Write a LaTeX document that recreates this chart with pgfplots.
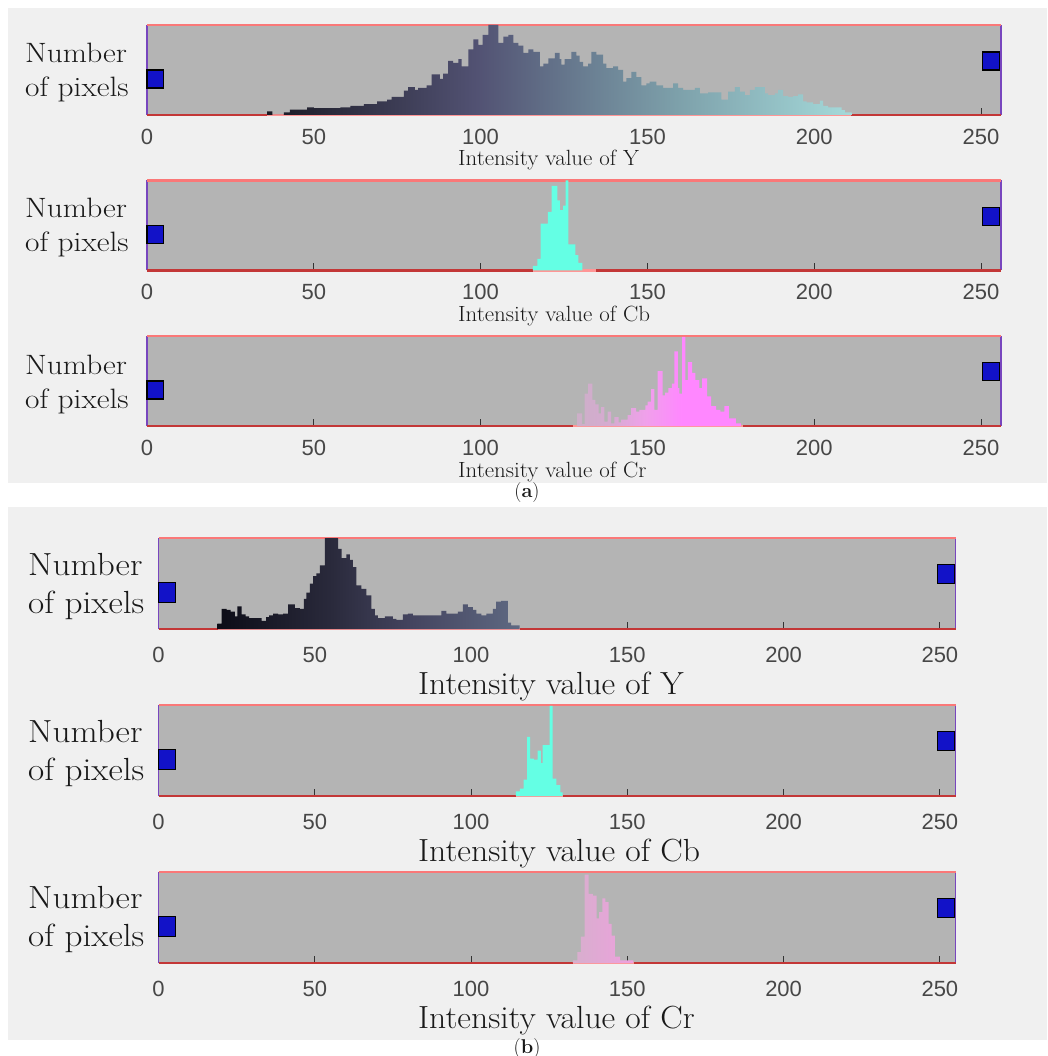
\documentclass[border=0pt]{standalone}
\usepackage{fontspec}
\usepackage{graphicx}
\usepackage{pgfplots}
\pgfplotsset{compat=1.18}
\newfontfamily\ticksf{Liberation Sans}

\definecolor{panelbg}{RGB}{240,240,240}
\definecolor{histbg}{RGB}{180,180,180}
\definecolor{frametop}{RGB}{250,120,120}
\definecolor{framebot}{RGB}{195,55,55}
\definecolor{frameside}{RGB}{120,70,190}
\definecolor{pinkseg}{RGB}{255,150,150}
\definecolor{sqblue}{RGB}{18,18,200}
\definecolor{cbcol}{RGB}{100,255,228}
\definecolor{labcol}{RGB}{25,25,25}
\definecolor{ya1}{RGB}{25,25,35}
\definecolor{ya2}{RGB}{82,82,115}
\definecolor{ya3}{RGB}{105,125,145}
\definecolor{ya4}{RGB}{125,160,170}
\definecolor{ya5}{RGB}{165,218,218}
\definecolor{cra1}{RGB}{205,175,200}
\definecolor{cra2}{RGB}{215,170,210}
\definecolor{cra3}{RGB}{240,160,235}
\definecolor{cra4}{RGB}{255,135,255}
\definecolor{yb1}{RGB}{12,12,22}
\definecolor{yb2}{RGB}{42,42,60}
\definecolor{yb3}{RGB}{68,68,95}
\definecolor{yb4}{RGB}{95,105,130}
\definecolor{crb1}{RGB}{215,175,205}
\definecolor{crb2}{RGB}{238,160,222}

\pgfdeclarehorizontalshading{shYa}{100bp}{color(0bp)=(ya1); color(25bp)=(ya1); color(43bp)=(ya2); color(52bp)=(ya3); color(60bp)=(ya4); color(75bp)=(ya5); color(100bp)=(ya5)}
\pgfdeclarehorizontalshading{shCra}{100bp}{color(0bp)=(cra1); color(25bp)=(cra1); color(36bp)=(cra2); color(46bp)=(cra3); color(57bp)=(cra4); color(75bp)=(cra4); color(100bp)=(cra4)}
\pgfdeclarehorizontalshading{shYb}{100bp}{color(0bp)=(yb1); color(25bp)=(yb1); color(44bp)=(yb2); color(57bp)=(yb3); color(75bp)=(yb4); color(100bp)=(yb4)}
\pgfdeclarehorizontalshading{shCrb}{100bp}{color(0bp)=(crb1); color(25bp)=(crb1); color(75bp)=(crb2); color(100bp)=(crb2)}

\pgfplotsset{
  hist/.style={scale only axis, ymin=0, ymax=1, xmin=0, clip=false,
    axis line style={draw=none},
    axis background/.style={fill=histbg},
    xtick={0,50,100,150,200,250}, xticklabels={0,50,100,150,200,250},
    ytick=\empty, xtick pos=left, tick align=inside, major tick length=7pt,
    tick style={line width=1pt, black!80},
    xticklabel style={font=\ticksf\fontsize{22}{22}\selectfont, text=black!72},
    anchor=south west},
  hista/.style={hist, width=854pt, height=90pt, xmax=256, xticklabel style={yshift=-10.5pt}},
  histb/.style={hist, width=797pt, height=91pt, xmax=255, xticklabel style={yshift=-15pt}},
}
\newcommand\frameit{%
  \draw[frameside, line width=1.6pt] (rel axis cs:0,0) -- (rel axis cs:0,1);
  \draw[frameside, line width=1.6pt] (rel axis cs:1,0) -- (rel axis cs:1,1);
  \draw[frametop, line width=2.6pt] (rel axis cs:0,1) -- (rel axis cs:1,1);
  \draw[framebot, line width=2.6pt] (rel axis cs:0,0) -- (rel axis cs:1,0);}

\begin{document}
\begin{tikzpicture}
\useasboundingbox (0pt,0pt) rectangle (1047pt,-1056pt);
\fill[white] (0pt,0pt) rectangle (1047pt,-1056pt);
\fill[panelbg] (8pt,-8pt) rectangle (1047pt,-483pt);
\fill[panelbg] (8pt,-507pt) rectangle (1047pt,-1040pt);

% ---------------- (a) Y
\begin{axis}[hista, at={(147pt,-115pt)}]
\frameit
\addplot[draw=pinkseg, line width=2.6pt] coordinates {(36,0) (211,0)};
\addplot[draw=none, shade, shading=shYa, const plot] coordinates {
(36,0.04)(37.6,0)(41,0.03)(42.8,0.06)(48,0.085)(50,0.075)(58,0.085)(61,0.1)(65,0.12)(69,0.15)
(72,0.17)(73.3,0.2)(77,0.27)(78.3,0.31)(80.3,0.28)(81.3,0.3)(83.8,0.33)(85.3,0.45)(87.8,0.4)
(88.8,0.46)(90.3,0.6)(91.8,0.58)(93.3,0.62)(94.3,0.54)(96.3,0.73)(97.8,0.84)(99.3,0.78)
(100.6,0.89)(102.3,1.0)(105.3,0.8)(106.8,0.87)(108.3,0.89)(109.8,0.8)(111.3,0.77)(112.8,0.69)
(114.3,0.73)(115.8,0.7)(117.8,0.54)(118.8,0.57)(120.3,0.63)(122.3,0.69)(123.7,0.62)(124.2,0.56)
(125.2,0.62)(127.2,0.7)(128.7,0.66)(129.7,0.59)(130.7,0.54)(132.2,0.57)(133.2,0.7)(134.7,0.67)
(136.7,0.57)(137.7,0.52)(139.7,0.54)(141.2,0.5)(142.7,0.37)(143.7,0.41)(145.2,0.48)(146.7,0.42)
(148.2,0.33)(149.7,0.35)(150.7,0.37)(152.7,0.33)(154.7,0.3)(157.7,0.35)(159.2,0.3)(160.7,0.28)
(164.2,0.3)(165.7,0.24)(168.2,0.25)(172.2,0.17)(174.2,0.26)(176.2,0.31)(177.7,0.26)(179.2,0.22)
(180.7,0.28)(182.2,0.31)(185.2,0.24)(186.2,0.22)(188.2,0.24)(189.2,0.28)(190.7,0.21)(192.2,0.2)
(193.7,0.21)(195.2,0.23)(196.7,0.15)(197.7,0.14)(199.7,0.12)(201.7,0.16)(202.7,0.1)(204.2,0.085)
(208.2,0.055)(209.2,0.03)(211.2,0)} \closedcycle;
\addplot[fill=sqblue, draw=black, line width=1.2pt] coordinates {(0,0.3) (5,0.3) (5,0.5) (0,0.5)} -- cycle;
\addplot[fill=sqblue, draw=black, line width=1.2pt] coordinates {(250.4,0.5) (255.6,0.5) (255.6,0.7) (250.4,0.7)} -- cycle;
\end{axis}

% ---------------- (a) Cb
\begin{axis}[hista, at={(147pt,-270.5pt)}]
\frameit
\addplot[draw=pinkseg, line width=2.6pt] coordinates {(115.6,0) (134.7,0)};
\addplot[draw=none, fill=cbcol, const plot] coordinates {
(115.7,0.05)(117,0.13)(118,0.52)(120.2,0.65)(121.3,0.94)(123,0.78)(123.8,0.67)(124.7,0.72)
(125.5,1.0)(126.3,0.29)(128.4,0.17)(129.3,0.085)(130.5,0)} \closedcycle;
\addplot[fill=sqblue, draw=black, line width=1.2pt] coordinates {(0,0.3) (5,0.3) (5,0.5) (0,0.5)} -- cycle;
\addplot[fill=sqblue, draw=black, line width=1.2pt] coordinates {(250.4,0.5) (255.6,0.5) (255.6,0.7) (250.4,0.7)} -- cycle;
\end{axis}

% ---------------- (a) Cr
\begin{axis}[hista, at={(147pt,-426pt)}]
\frameit
\addplot[draw=pinkseg, line width=2.6pt] coordinates {(127.6,0) (178.7,0)};
\addplot[draw=none, shade, shading=shCra, const plot] coordinates {
(128.9,0.14)(130.4,0.02)(131.2,0.36)(132.2,0.47)(133.5,0.29)(134.4,0.24)(135.4,0.14)(136.1,0.21)
(137.1,0.05)(138.1,0.16)(139.1,0.03)(140.1,0.1)(141.4,0.04)(142.1,0.07)(144.1,0.12)(145.1,0.2)
(146.6,0.16)(147.6,0.18)(149.4,0.23)(150.1,0.27)(151.1,0.41)(152.1,0.18)(153.1,0.61)(154.6,0.34)
(155.3,0.37)(156.3,0.42)(157.3,0.47)(158.1,0.83)(159.1,0.42)(159.6,0.36)(160.4,0.99)(161.4,0.51)
(162.1,0.71)(163.4,0.59)(164.4,0.51)(165.6,0.42)(166.4,0.53)(167.9,0.33)(169.1,0.22)(170.6,0.18)
(171.9,0.16)(173.1,0.22)(174.4,0.085)(176.5,0.03)(178,0)} \closedcycle;
\addplot[fill=sqblue, draw=black, line width=1.2pt] coordinates {(0,0.3) (5,0.3) (5,0.5) (0,0.5)} -- cycle;
\addplot[fill=sqblue, draw=black, line width=1.2pt] coordinates {(250.4,0.51) (255.6,0.51) (255.6,0.71) (250.4,0.71)} -- cycle;
\end{axis}

% ---------------- (b) Y
\begin{axis}[histb, at={(158.5pt,-629pt)}]
\frameit
\addplot[draw=pinkseg, line width=2.6pt] coordinates {(19,0) (115.8,0)};
\addplot[draw=none, shade, shading=shYb, const plot] coordinates {
(18.8,0.06)(20.2,0.22)(21.8,0.21)(23.1,0.19)(24.4,0.14)(25.2,0.25)(26.6,0.16)(27.9,0.14)(29.0,0.12)
(30.3,0.12)(33.0,0.09)(34.4,0.13)(35.4,0.15)(36.7,0.17)(38.3,0.16)(39.9,0.17)(41.5,0.27)(43.6,0.23)
(45.2,0.22)(46.5,0.33)(47.3,0.4)(48.4,0.5)(49.5,0.58)(50.5,0.61)(51.6,0.7)(53.2,1.0)(57.5,0.88)
(58.6,0.78)(60.1,0.82)(61.2,0.76)(62.2,0.68)(63.3,0.48)(64.9,0.44)(66.5,0.37)(68.1,0.22)(69.2,0.15)
(70.2,0.12)(72.4,0.14)(75.0,0.11)(76.1,0.1)(78.2,0.16)(79.8,0.17)(81.4,0.15)(83.0,0.15)(87.3,0.15)
(90.5,0.2)(92.1,0.17)(95.8,0.19)(97.4,0.27)(99.0,0.24)(100.6,0.21)(101.7,0.17)(103.3,0.15)
(104.9,0.17)(107.0,0.22)(108.0,0.3)(109.6,0.31)(111.8,0.07)(112.8,0.04)(115.5,0)} \closedcycle;
\addplot[fill=sqblue, draw=black, line width=1.2pt] coordinates {(0,0.29) (5.4,0.29) (5.4,0.51) (0,0.51)} -- cycle;
\addplot[fill=sqblue, draw=black, line width=1.2pt] coordinates {(249.3,0.5) (254.6,0.5) (254.6,0.71) (249.3,0.71)} -- cycle;
\end{axis}

% ---------------- (b) Cb
\begin{axis}[histb, at={(158.5pt,-796pt)}]
\frameit
\addplot[draw=pinkseg, line width=2.6pt] coordinates {(114.3,0) (129.3,0)};
\addplot[draw=none, fill=cbcol, const plot] coordinates {
(114.3,0.05)(115.6,0.08)(116.8,0.18)(117.9,0.65)(118.9,0.41)(120.1,0.4)(121.3,0.5)(122.3,0.36)
(122.9,0.56)(125.1,0.99)(126.1,0.19)(127.3,0.12)(128.6,0.04)(129.3,0)} \closedcycle;
\addplot[fill=sqblue, draw=black, line width=1.2pt] coordinates {(0,0.29) (5.4,0.29) (5.4,0.51) (0,0.51)} -- cycle;
\addplot[fill=sqblue, draw=black, line width=1.2pt] coordinates {(249.3,0.5) (254.6,0.5) (254.6,0.71) (249.3,0.71)} -- cycle;
\end{axis}

% ---------------- (b) Cr
\begin{axis}[histb, at={(158.5pt,-963pt)}]
\frameit
\addplot[draw=pinkseg, line width=2.6pt] coordinates {(132.6,0) (152,0)};
\addplot[draw=none, shade, shading=shCrb, const plot] coordinates {
(132.6,0.03)(134.0,0.12)(135.1,0.29)(136.3,0.97)(137.6,0.76)(139.0,0.74)(140.2,0.49)(141.0,0.56)
(142.0,0.71)(143.0,0.67)(144.0,0.43)(145.0,0.3)(146.0,0.07)(147.7,0.03)(151.9,0)} \closedcycle;
\addplot[fill=sqblue, draw=black, line width=1.2pt] coordinates {(0,0.29) (5.4,0.29) (5.4,0.51) (0,0.51)} -- cycle;
\addplot[fill=sqblue, draw=black, line width=1.2pt] coordinates {(249.3,0.5) (254.6,0.5) (254.6,0.71) (249.3,0.71)} -- cycle;
\end{axis}

% ---------------- labels
\begin{scope}[every node/.style={text=labcol, inner sep=0pt}]
\foreach \t in {39,194,350} {
  \node[anchor=north west, font=\fontsize{28}{34}\selectfont] at (25pt,-\t pt)
    {\scalebox{1.12}[1]{\begin{tabular}{@{}l@{}}Number\\of pixels\end{tabular}}};}
\foreach \t in {549,716,882} {
  \node[anchor=north west, font=\fontsize{32}{38}\selectfont] at (28pt,-\t pt)
    {\scalebox{1.1}[1]{\begin{tabular}{@{}l@{}}Number\\of pixels\end{tabular}}};}
\node[anchor=base west, font=\fontsize{22}{22}\selectfont] at (458pt,-166pt) {\scalebox{1.04}[1]{Intensity value of Y}};
\node[anchor=base west, font=\fontsize{22}{22}\selectfont] at (458pt,-321pt) {\scalebox{1.04}[1]{Intensity value of Cb}};
\node[anchor=base west, font=\fontsize{22}{22}\selectfont] at (458pt,-477pt) {\scalebox{1.04}[1]{Intensity value of Cr}};
\node[anchor=base west, font=\fontsize{32}{32}\selectfont] at (418pt,-694pt) {\scalebox{1.05}[1]{Intensity value of Y}};
\node[anchor=base west, font=\fontsize{32}{32}\selectfont] at (418pt,-861pt) {\scalebox{1.05}[1]{Intensity value of Cb}};
\node[anchor=base west, font=\fontsize{32}{32}\selectfont] at (418pt,-1028pt) {\scalebox{1.05}[1]{Intensity value of Cr}};
\node[font=\fontsize{20}{20}\selectfont] at (527pt,-493pt) {(\textbf{a})};
\node[font=\fontsize{20}{20}\selectfont] at (527pt,-1048pt) {(\textbf{b})};
\end{scope}
\end{tikzpicture}
\end{document}
